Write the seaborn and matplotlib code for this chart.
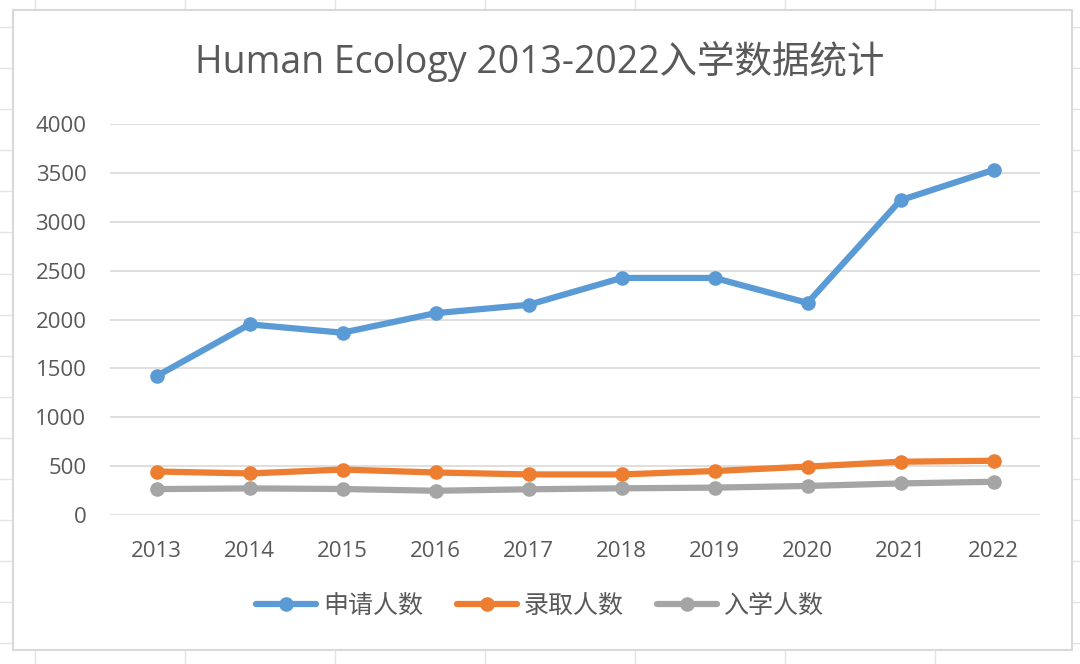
import pandas as pd
import numpy as np
import matplotlib.pyplot as plt
from matplotlib.patches import Rectangle
from matplotlib.lines import Line2D
import seaborn as sns

# data
years = ['2013', '2014', '2015', '2016', '2017', '2018', '2019', '2020', '2021', '2022']
applied = [1420, 1950, 1865, 2065, 2150, 2425, 2425, 2170, 3220, 3530]
admitted = [445, 425, 465, 435, 415, 415, 450, 495, 545, 555]
enrolled = [265, 272, 266, 248, 263, 273, 280, 297, 323, 340]
series_names = ['申请人数', '录取人数', '入学人数']
colors = ['#5B9BD5', '#ED7D31', '#A5A5A5']

df = pd.DataFrame({'year': years * 3,
                   'count': applied + admitted + enrolled,
                   'series': np.repeat(series_names, len(years))})

sns.set_theme(style='white')
plt.rcParams['font.family'] = ['Open Sans', 'Noto Sans CJK SC', 'DejaVu Sans']
text_color = '#595959'

fig = plt.figure(figsize=(10.8, 6.64), dpi=100)
W, H = 1080, 664

# spreadsheet cells behind the chart
bg = fig.add_axes([0, 0, 1, 1])
bg.set_xlim(0, W)
bg.set_ylim(H, 0)
bg.axis('off')
for x in range(35, W, 150):
    bg.axvline(x, color='#E3E3E3', lw=1)
for y in np.arange(27, H, 41.1):
    bg.axhline(y, color='#E3E3E3', lw=1)
bg.add_patch(Rectangle((13, 10), 1059, 640, facecolor='white', edgecolor='#D9D9D9', lw=1.5, zorder=5))

ax = fig.add_axes([110 / W, (H - 515) / H, 930 / W, (515 - 124) / H])
ax.set_zorder(10)
ax.patch.set_alpha(0)
sns.lineplot(data=df, x='year', y='count', hue='series', hue_order=series_names,
             palette=colors, marker='o', markersize=10.5, markeredgewidth=0,
             linewidth=4.5, ax=ax, legend=False, sort=False)

ax.set_xlim(-0.5, len(years) - 0.5)
ax.set_ylim(0, 4000)
ax.set_yticks(range(0, 4001, 500))
ax.yaxis.grid(True, color='#D9D9D9', lw=1.2)
ax.set_axisbelow(True)
for s in ax.spines.values():
    s.set_visible(False)
ax.tick_params(axis='both', length=0, labelsize=16, colors=text_color)
ax.tick_params(axis='x', pad=19)
ax.tick_params(axis='y', pad=17)
ax.set_xlabel('')
ax.set_ylabel('')

fig.text(0.5, (H - 61) / H, 'Human Ecology 2013-2022入学数据统计', ha='center', va='center',
         fontsize=27, color=text_color, zorder=20)

handles = [Line2D([0], [0], color=c, lw=4.5, marker='o', markersize=10.5, markeredgewidth=0)
           for c in colors]
fig.legend(handles, series_names, loc='center', bbox_to_anchor=(0.5, (H - 606) / H),
           ncol=3, frameon=False, fontsize=18, labelcolor=text_color,
           handlelength=2.4, handletextpad=0.28, columnspacing=1.35)

plt.savefig('out.png', dpi=100)
